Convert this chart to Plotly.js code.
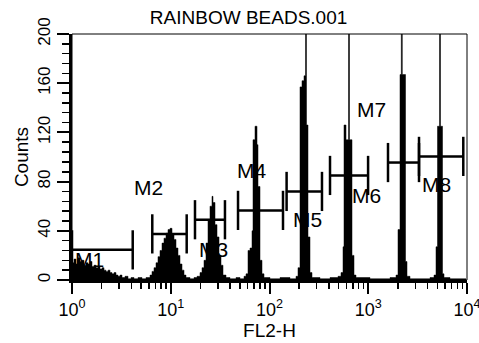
<!DOCTYPE html>
<html>
<head>
<meta charset="utf-8">
<script src="https://cdn.plot.ly/plotly-3.0.1.min.js"></script>
<style>html,body{margin:0;padding:0;background:#fff;}#chart{width:479px;height:343px;}</style>
</head>
<body>
<div id="chart"></div>
<script>
// Histogram: FL2-H channel value (left edge of each step) and event counts
var fl2Values = [1.00,1.048,1.098,1.150,1.205,1.263,1.323,1.386,1.452,1.521,1.594,1.670,1.750,1.833,1.921,2.013,2.109,2.210,2.315,2.426,2.542,2.663,2.790,2.923,3.063,3.209,3.441,3.691,3.958,4.245,4.660,5.116,5.616,
  6.165,6.458,6.767,7.089,7.428,7.782,8.154,8.542,8.951,9.380,9.826,10.30,10.79,11.30,11.84,12.41,13.00,13.62,14.27,15.66,17.20,
  18.45,19.78,20.73,21.71,22.75,23.84,24.97,26.16,26.78,28.06,29.41,30.81,32.28,33.82,36.27,39.81,45.80,50.28,55.20,
  57.81,60.57,63.46,66.50,68.07,71.32,74.72,76.48,80.13,83.97,87.98,101.2,127.8,161.3,185.5,
  194.4,203.7,213.4,223.6,231.5,236.9,245.4,257.1,269.4,324.7,410.1,494.0,
  529.8,555.1,568.2,595.4,631.0,645.9,684.6,717.4,751.6,1041,1315,1661,
  1910,2001,2097,2161,2212,2384,2469,2648,3343,4221,
  4633,4855,5027,5267,5391,5648,5851,6729,9770];
var counts = [14,17,13,18,15,16,12,14,13,15,11,12,10,11,9,10,8,7,8,6,5,6,4,3,4,2,3,1,2,1,2,1,2,
  4,7,10,14,19,24,30,34,38,41,42,37,33,26,20,13,8,4,2,1,2,
  3,6,10,16,30,49,60,68,63,45,35,20,12,4,2,1,2,1,3,
  5,24,26,40,114,125,110,76,16,5,2,1,2,1,3,
  10,157,162,166,215,126,35,6,2,1,2,3,
  6,27,126,114,215,114,20,4,2,1,1,2,
  4,41,167,215,167,15,3,1,1,2,
  4,27,125,215,125,5,2,1,1];

// Markers M1..M8
var markerNames = ['M1','M2','M3','M4','M5','M6','M7','M8'];
var markerLeft  = [1.0, 6.50, 17.6, 48.0, 149, 410, 1585, 3266];
var markerRight = [4.12, 14.5, 35.4, 137, 340, 996, 3266, 9170];
var markerLevel = [24.5, 37.5, 49, 56.6, 72, 85, 95.5, 100.5];
var labelX = [1.52, 6.02, 26.8, 65, 240, 971, 1067, 4966];
var labelY = [16.3, 75, 24.5, 89, 49, 69, 139, 77.5];

// Axis ticks
var xTickVals = [1, 10, 100, 1000, 10000];
var xTickText = ['10<sup>0</sup>','10<sup>1</sup>','10<sup>2</sup>','10<sup>3</sup>','10<sup>4</sup>'];
var xMinorTickVals = [2,3,4,5,6,7,8,9,20,30,40,50,60,70,80,90,200,300,400,500,600,700,800,900,2000,3000,4000,5000,6000,7000,8000,9000];
var yTickVals = [0, 40, 80, 120, 160, 200];

var FONT = 'Arial, "Liberation Sans", Helvetica, sans-serif';

var traces = [{
  type: 'scatter', mode: 'lines',
  x: fl2Values, y: counts,
  line: {shape: 'hv', color: '#000', width: 0.5},
  fill: 'tozeroy', fillcolor: '#000',
  hoverinfo: 'skip', showlegend: false
}];

var annotations = [];
for (var i = 0; i < markerNames.length; i++) {
  traces.push({
    type: 'scatter', mode: 'lines+markers',
    x: [markerLeft[i], markerRight[i]],
    y: [markerLevel[i], markerLevel[i]],
    line: {color: '#000', width: 2.5},
    marker: {symbol: 'line-ns-open', size: 28, color: '#000', line: {color: '#000', width: 2.5}},
    showlegend: false, hoverinfo: 'skip'
  });
  annotations.push({
    x: Math.log10(labelX[i]), y: labelY[i], xref: 'x', yref: 'y',
    text: markerNames[i], showarrow: false,
    font: {family: FONT, size: 21, color: '#000'},
    xanchor: 'center', yanchor: 'middle'
  });
}

var layout = {
  width: 479, height: 343,
  margin: {l: 72, r: 12, t: 34, b: 63, pad: 0},
  paper_bgcolor: '#fff', plot_bgcolor: '#fff',
  font: {family: FONT, color: '#000'},
  title: {
    text: 'RAINBOW BEADS.001',
    font: {family: FONT, size: 19, color: '#000'},
    xref: 'container', yref: 'container',
    x: 0.519, xanchor: 'center', y: 0.95, yanchor: 'middle'
  },
  xaxis: {
    type: 'log', range: [0, 4],
    tickmode: 'array', tickvals: xTickVals, ticktext: xTickText,
    ticks: 'outside', ticklen: 11, tickwidth: 2, tickcolor: '#000',
    ticklabeloverflow: 'allow',
    showline: true, linewidth: 3, linecolor: '#000',
    showgrid: false, zeroline: false,
    tickfont: {family: FONT, size: 18, color: '#000'},
    title: {text: 'FL2-H', font: {family: FONT, size: 19, color: '#000'}, standoff: 6},
    minor: {tickmode: 'array', tickvals: xMinorTickVals, ticks: 'outside', ticklen: 6, tickwidth: 1.5, tickcolor: '#000', showgrid: false}
  },
  yaxis: {
    range: [0, 200],
    tickmode: 'array', tickvals: yTickVals,
    ticks: 'outside', ticklen: 12, tickwidth: 2, tickcolor: '#000',
    tickangle: -90,
    showline: true, linewidth: 3, linecolor: '#000',
    showgrid: false, zeroline: false,
    tickfont: {family: FONT, size: 17, color: '#000'},
    title: {text: 'Counts', font: {family: FONT, size: 19, color: '#000'}, standoff: 2},
    minor: {dtick: 8, tick0: 0, ticks: 'outside', ticklen: 7, tickwidth: 1.5, tickcolor: '#000', showgrid: false}
  },
  shapes: [{type: 'rect', xref: 'paper', yref: 'paper', x0: 0, x1: 1, y0: 0, y1: 1, line: {color: '#000', width: 1}, layer: 'above'}],
  annotations: annotations
};

Plotly.newPlot('chart', traces, layout, {staticPlot: true, displayModeBar: false});
</script>
</body>
</html>
